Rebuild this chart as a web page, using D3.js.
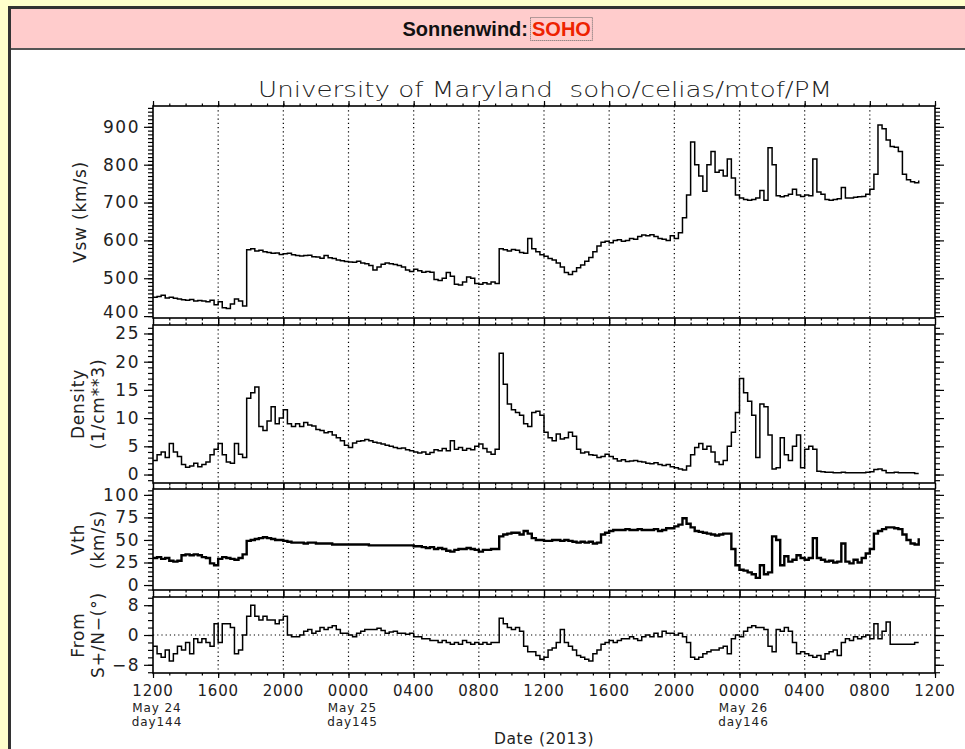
<!DOCTYPE html>
<html>
<head>
<meta charset="utf-8">
<script src="https://cdn.jsdelivr.net/npm/d3@7"></script>
<style>
  body { margin: 0; background: #ffffcc; }
  svg { display: block; }
</style>
</head>
<body>
<div id="container"></div>
<script>
// samples every 15 minutes, starting 1200 UT May 24 2013
const stepHours = 0.25;

const vsw = [
  450, 452, 455, 448, 450, 447, 445, 443, 442, 444, 440, 441,
  440, 438, 442, 430, 438, 422, 420, 432, 445, 440, 427, 575,
  578, 572, 574, 570, 568, 566, 567, 563, 565, 566, 562, 560,
  559, 560, 561, 557, 556, 553, 560, 554, 552, 548, 546, 544,
  543, 542, 545, 540, 538, 534, 522, 530, 537, 540, 538, 536,
  534, 530, 522, 518, 524, 520, 516, 518, 516, 497, 494, 500,
  515, 505, 484, 482, 490, 503, 500, 486, 484, 488, 485, 490,
  486, 578, 575, 572, 576, 574, 568, 566, 605, 578, 570, 562,
  558, 552, 548, 540, 530, 515, 510, 518, 528, 535, 545, 555,
  570, 585, 595, 598, 594, 600, 602, 598, 600, 605, 603, 610,
  614, 612, 615, 610, 605, 603, 600, 612, 605, 620, 660, 720,
  860, 800, 770, 730, 800, 835, 780, 785, 770, 815, 765, 720,
  712, 708, 706, 708, 712, 732, 706, 845, 800, 718, 715, 718,
  722, 735, 720, 716, 720, 718, 815, 728, 722, 708, 706, 708,
  710, 740, 712, 712, 714, 715, 716, 722, 735, 775, 905, 895,
  865, 848, 846, 835, 775, 760, 755, 752, 758
];

const density = [
  2.5, 3.5, 4.0, 3.0, 5.5, 4.0, 3.2, 1.8, 1.3, 1.5, 2.0, 1.4,
  1.8, 2.2, 3.5, 4.5, 5.5, 3.5, 2.2, 2.0, 5.5, 3.6, 3.0, 13.5,
  14.5, 15.5, 8.5, 7.8, 9.5, 12.0, 9.0, 10.0, 11.5, 9.0, 8.5, 9.0,
  8.5, 9.2, 8.8, 8.6, 8.0, 7.8, 7.4, 7.6, 7.0, 6.5, 6.0, 5.2,
  4.8, 5.6, 5.9, 6.0, 6.2, 6.0, 5.7, 5.6, 5.4, 5.2, 5.0, 4.8,
  4.6, 4.7, 4.4, 4.2, 4.0, 3.8, 4.0, 3.6, 3.9, 4.4, 4.2, 4.6,
  4.2, 6.0, 4.5, 4.8, 4.3, 4.6, 4.4, 5.0, 5.4, 4.6, 4.0, 3.6,
  4.5, 21.5, 16.0, 12.5, 11.5, 11.0, 10.5, 9.0, 8.5, 11.0, 11.2, 10.5,
  7.5, 6.5, 6.0, 7.2, 6.3, 6.5, 7.5, 6.8, 4.5, 3.8, 4.0, 3.5,
  3.4, 3.0, 3.2, 3.6, 3.2, 2.8, 2.4, 2.6, 2.3, 2.4, 2.5, 2.3,
  2.2, 2.0, 1.9, 2.1, 1.8, 1.6, 1.8, 1.4, 1.2, 1.0, 0.8, 1.5,
  3.5, 4.8, 5.5, 4.5, 5.0, 4.0, 2.2, 1.8, 2.5, 5.0, 7.5, 11.0,
  17.0, 14.5, 13.0, 10.5, 3.0, 12.5, 12.0, 7.0, 1.0, 1.2, 6.5, 3.5,
  2.5, 5.0, 7.0, 1.2, 4.5, 5.0, 4.5, 0.6, 0.5, 0.4, 0.4, 0.3,
  0.3, 0.4, 0.3, 0.3, 0.3, 0.3, 0.3, 0.4, 0.5, 0.9, 1.0, 0.7,
  0.3, 0.3, 0.4, 0.3, 0.3, 0.3, 0.3, 0.2, 0.2
];

const vth = [
  30, 31, 29, 30, 27, 26, 27, 33, 34, 33, 34, 33,
  31, 30, 24, 22, 29, 31, 30, 29, 28, 30, 34, 49,
  50, 51, 52, 53, 52, 51, 50, 50, 49, 48, 47, 47,
  47, 46, 47, 47, 46, 46, 46, 46, 45, 45, 45, 45,
  45, 45, 45, 45, 45, 44, 44, 44, 44, 44, 44, 44,
  44, 44, 44, 44, 43, 43, 42, 41, 42, 40, 41, 40,
  38, 37, 39, 40, 40, 41, 40, 39, 37, 39, 39, 40,
  40, 54, 56, 57, 58, 58, 56, 60, 57, 52, 50, 50,
  49, 49, 50, 50, 49, 50, 49, 48, 47, 48, 47, 48,
  46, 47, 56, 58, 60, 61, 61, 61, 62, 61, 61, 62,
  61, 61, 61, 62, 60, 61, 63, 63, 65, 67, 74, 68,
  64, 60, 59, 58, 57, 56, 55, 56, 57, 57, 40, 22,
  17, 16, 14, 12, 8, 22, 12, 14, 54, 50, 22, 32,
  26, 28, 33, 30, 28, 30, 52, 30, 28, 26, 27, 25,
  26, 46, 26, 24, 28, 25, 30, 35, 40, 57, 60, 62,
  64, 64, 63, 62, 56, 50, 46, 45, 52
];

const fromSN = [
  -3, -5, -6, -4, -7, -5, -3, -4, -2, -5, -1, -2,
  -1, -2, -3, 3, -2, 3, 3, 2, -5, -4, 0, 5,
  8, 5, 4, 5, 4, 4, 3, 4, 5, 0, -0.5, -0.5,
  0, 1, 1.5, 0.5, 1, 2, 1.5, 2, 2.5, 1.5, 0.5, 0.5,
  0, -0.5, 0.5, 1, 1.5, 1.5, 1.5, 1.8, 1.2, 0.5, 0.8, 1,
  0.5, 0.5, 0.2, 0.5, -0.5, -0.5, -1, -1, -1.5, -1.5, -2, -1.5,
  -2, -2.5, -2, -2.5, -1.5, -2, -2.5, -2, -2.5, -2, -2.5, -2,
  -2, 4.5, 3, 2, 1.5, 2, 1, -3, -4.5, -4.5, -5.5, -6.5,
  -6, -4, -3.5, -2, 1.5, -2, -3, -4, -5.5, -6, -6.5, -7,
  -5, -4, -2.5, -2, -1.5, -2, -1.5, -1, -1, -0.5, -1, -1.5,
  -0.5, 0, -0.5, 0.5, -0.5, 1, 0.5, 0.5, 0, 0.5, -0.5, -2,
  -6, -6.5, -6, -5, -4.5, -4, -4, -3.5, -3, -5, -1, 0,
  -0.5, 1, 2, 2.5, 2, 2, 1.5, -3, -4.5, 1.5, 1, 2,
  1, -2, -5, -4.5, -5, -5.5, -6, -5.5, -6.5, -5, -4.5, -4,
  -5.5, -2, -1, -1.5, -0.5, -1, -0.5, 0, -1, 3, -1, 1,
  3.5, -2.5, -2.5, -2.5, -2.5, -2.5, -2.5, -2, -2
];

const vswTicks = [400, 500, 600, 700, 800, 900];
const densityTicks = [0, 5, 10, 15, 20, 25];
const vthTicks = [0, 25, 50, 75, 100];
const fromTicks = [-8, 0, 8];

const xTickHours = [0, 4, 8, 12, 16, 20, 24, 28, 32, 36, 40, 44, 48];
const xTickLabels = ["1200", "1600", "2000", "0000", "0400", "0800", "1200",
                     "1600", "2000", "0000", "0400", "0800", "1200"];
const dayHours = [0, 12, 36];
const dayLabels = [["May 24", "day144"], ["May 25", "day145"], ["May 26", "day146"]];

const chartTitle = "University of Maryland  soho/celias/mtof/PM";
const xTitle = "Date (2013)";

// ---------- layout ----------
const width = 965, height = 749;
const plotLeft = 153, plotRight = 935;

const panels = [
  { values: vsw, top: 106, bottom: 318, domain: [395, 955], ticks: vswTicks, minor: 10,
    label: ["Vsw (km/s)"], labelX: [86], lw: 1.5, lowShift: -4 },
  { values: density, top: 325, bottom: 483, domain: [-1.5, 26.5], ticks: densityTicks, minor: 1,
    label: ["Density", "(1/cm**3)"], labelX: [84, 104], lw: 1.5, lowShift: 0 },
  { values: vth, top: 489, bottom: 590, domain: [-5.5, 106.5], ticks: vthTicks, minor: 5,
    label: ["Vth", "(km/s)"], labelX: [84, 104], lw: 2.4, lowShift: 0 },
  { values: fromSN, top: 597, bottom: 673, domain: [-10.2, 10.2], ticks: fromTicks, minor: 2,
    label: ["From", "S+/N\u2212(\u00B0)"], labelX: [84, 104], lw: 1.5, lowShift: 0, zeroLine: true }
];

const svg = d3.select("#container").append("svg")
  .attr("width", width).attr("height", height);

// page box
svg.append("rect").attr("x", 0).attr("y", 0).attr("width", width).attr("height", height)
  .attr("fill", "#ffffcc");
svg.append("rect").attr("x", 9.5).attr("y", 7.5).attr("width", width).attr("height", height)
  .attr("fill", "#ffffff").attr("stroke", "#333").attr("stroke-width", 3);
svg.append("rect").attr("x", 11).attr("y", 9).attr("width", width).attr("height", 39)
  .attr("fill", "#ffcccc");
svg.append("line").attr("x1", 11).attr("x2", width).attr("y1", 49).attr("y2", 49)
  .attr("stroke", "#555").attr("stroke-width", 2);

svg.append("text")
  .attr("x", 528).attr("y", 36)
  .attr("text-anchor", "end")
  .style("font-family", "'Liberation Sans', Arial, sans-serif")
  .style("font-weight", "bold").style("font-size", "20px")
  .attr("fill", "#111")
  .text("Sonnenwind:");
const head2 = svg.append("text")
  .attr("x", 532).attr("y", 36)
  .style("font-family", "'Liberation Sans', Arial, sans-serif")
  .style("font-weight", "bold").style("font-size", "20px")
  .attr("fill", "#ee2200")
  .text("SOHO");
const hb = head2.node().getBBox();
svg.append("rect")
  .attr("x", hb.x - 1.5).attr("y", hb.y - 0.5)
  .attr("width", hb.width + 3).attr("height", hb.height + 1)
  .attr("fill", "none").attr("stroke", "#666").attr("stroke-width", 1)
  .attr("stroke-dasharray", "1,1");

// title (keep the double space)
svg.append("text")
  .attr("x", (258 + 832) / 2).attr("y", 97)
  .attr("text-anchor", "middle")
  .attr("xml:space", "preserve")
  .style("white-space", "pre")
  .attr("textLength", 574).attr("lengthAdjust", "spacingAndGlyphs")
  .style("font-family", "'DejaVu Sans', sans-serif")
  .style("font-size", "21px").style("font-weight", 200)
  .attr("fill", "#222")
  .text(chartTitle);

const xScale = d3.scaleLinear().domain([0, 48]).range([plotLeft, plotRight]);
const hourMinor = d3.range(0, 49, 1);

panels.forEach(p => {
  const yScale = d3.scaleLinear().domain(p.domain).range([p.bottom, p.top]);
  const g = svg.append("g");

  // vertical dotted grid lines
  g.selectAll("line.grid")
    .data(xTickHours.slice(1, -1))
    .enter().append("line")
    .attr("x1", d => xScale(d)).attr("x2", d => xScale(d))
    .attr("y1", p.top).attr("y2", p.bottom)
    .attr("stroke", "#000").attr("stroke-width", 1.2)
    .attr("stroke-dasharray", "1.2,3");

  if (p.zeroLine) {
    g.append("line")
      .attr("x1", plotLeft).attr("x2", plotRight)
      .attr("y1", yScale(0)).attr("y2", yScale(0))
      .attr("stroke", "#000").attr("stroke-width", 1.2)
      .attr("stroke-dasharray", "1.2,3");
  }

  // data line
  const line = d3.line()
    .x((d, i) => xScale(i * stepHours))
    .y(d => yScale(d))
    .curve(d3.curveStepAfter);
  g.append("path")
    .datum(p.values)
    .attr("d", line)
    .attr("fill", "none")
    .attr("stroke", "#000")
    .attr("stroke-width", p.lw);

  // y axes: left + right, major + minor, outward
  const [lo, hi] = p.domain;
  const minorVals = d3.range(Math.ceil(lo / p.minor) * p.minor, hi, p.minor);
  const styleAxis = sel => {
    sel.select(".domain").remove();
    sel.selectAll("line").attr("stroke", "#000").attr("stroke-width", 1.2);
  };
  g.append("g").attr("transform", `translate(${plotLeft},0)`)
    .call(d3.axisLeft(yScale).tickValues(minorVals).tickSize(5).tickFormat(""))
    .call(styleAxis);
  g.append("g").attr("transform", `translate(${plotRight},0)`)
    .call(d3.axisRight(yScale).tickValues(minorVals).tickSize(5).tickFormat(""))
    .call(styleAxis);
  const left = g.append("g").attr("transform", `translate(${plotLeft},0)`)
    .call(d3.axisLeft(yScale).tickValues(p.ticks).tickSize(9).tickPadding(4)
      .tickFormat(d => d < 0 ? "\u2212" + Math.abs(d) : d))
    .call(styleAxis);
  left.selectAll("text")
    .style("font-family", "'DejaVu Sans', sans-serif")
    .style("font-size", "17px").style("letter-spacing", "1.5px")
    .attr("fill", "#222")
    .attr("y", d => d === p.ticks[0] ? p.lowShift : 0);
  g.append("g").attr("transform", `translate(${plotRight},0)`)
    .call(d3.axisRight(yScale).tickValues(p.ticks).tickSize(9).tickFormat(""))
    .call(styleAxis);

  // x ticks top and bottom, outward
  g.append("g").attr("transform", `translate(0,${p.top})`)
    .call(d3.axisTop(xScale).tickValues(hourMinor).tickSize(2.5).tickFormat(""))
    .call(styleAxis);
  g.append("g").attr("transform", `translate(0,${p.top})`)
    .call(d3.axisTop(xScale).tickValues(xTickHours).tickSize(5).tickFormat(""))
    .call(styleAxis);
  g.append("g").attr("transform", `translate(0,${p.bottom})`)
    .call(d3.axisBottom(xScale).tickValues(hourMinor).tickSize(2.5).tickFormat(""))
    .call(styleAxis);
  g.append("g").attr("transform", `translate(0,${p.bottom})`)
    .call(d3.axisBottom(xScale).tickValues(xTickHours).tickSize(5).tickFormat(""))
    .call(styleAxis);

  // frame
  g.append("rect")
    .attr("x", plotLeft).attr("y", p.top)
    .attr("width", plotRight - plotLeft).attr("height", p.bottom - p.top)
    .attr("fill", "none").attr("stroke", "#000").attr("stroke-width", 1.6);

  // y label (rotated, one or two lines)
  const cy = (p.top + p.bottom) / 2;
  p.label.forEach((txt, j) => {
    svg.append("text")
      .attr("transform", `translate(${p.labelX[j]},${cy}) rotate(-90)`)
      .attr("text-anchor", "middle")
      .style("font-family", "'DejaVu Sans', sans-serif")
      .style("font-size", "17px").style("letter-spacing", "0.8px")
      .attr("fill", "#222")
      .text(txt);
  });
});

// x tick labels under the bottom panel
const bottomY = panels[panels.length - 1].bottom;
svg.append("g").selectAll("text")
  .data(xTickHours)
  .enter().append("text")
  .attr("x", d => xScale(d))
  .attr("y", bottomY + 23)
  .attr("text-anchor", "middle")
  .style("font-family", "'DejaVu Sans', sans-serif")
  .style("font-size", "15px").style("letter-spacing", "0.8px")
  .attr("fill", "#222")
  .text((d, i) => xTickLabels[i]);

dayHours.forEach((h, i) => {
  dayLabels[i].forEach((txt, j) => {
    svg.append("text")
      .attr("x", xScale(h) + 4)
      .attr("y", bottomY + 39 + j * 14)
      .attr("text-anchor", "middle")
      .style("font-family", "'DejaVu Sans', sans-serif")
      .style("font-size", "12px").style("letter-spacing", "0.9px")
      .attr("fill", "#222")
      .text(txt);
  });
});

svg.append("text")
  .attr("x", (plotLeft + plotRight) / 2).attr("y", 744)
  .attr("text-anchor", "middle")
  .style("font-family", "'DejaVu Sans', sans-serif")
  .style("font-size", "15.5px").style("letter-spacing", "0.6px")
  .attr("fill", "#222")
  .text(xTitle);
</script>
</body>
</html>
